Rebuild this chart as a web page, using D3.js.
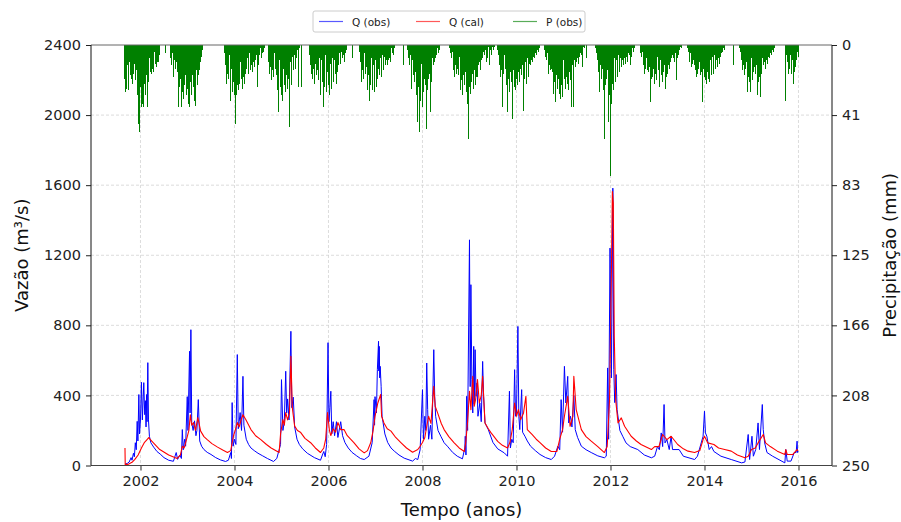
<!DOCTYPE html>
<html>
<head>
<meta charset="utf-8">
<script src="https://cdn.jsdelivr.net/npm/d3@7"></script>
<style>
  body { margin: 0; background: #fff; }
  text { font-family: 'DejaVu Sans', sans-serif; }
</style>
</head>
<body>
<div id="chart"></div>
<script>
// tick values
const yearTicks = [2002, 2004, 2006, 2008, 2010, 2012, 2014, 2016];
const flowTicks = [0, 400, 800, 1200, 1600, 2000, 2400];
const rainTicks = [0, 41.67, 83.33, 125, 166.67, 208.33, 250];

// observed discharge, [decimal year, m3/s]
const qObs = [
  [2001.67, 8], [2001.72, 12], [2001.76, 20], [2001.80, 45], [2001.82, 30], [2001.85, 70], [2001.87, 50],
  [2001.89, 130], [2001.91, 90], [2001.93, 252], [2001.945, 140], [2001.965, 405], [2001.98, 180],
  [2002.00, 260], [2002.02, 475], [2002.04, 260], [2002.07, 473], [2002.09, 290], [2002.105, 370],
  [2002.118, 220], [2002.13, 405], [2002.14, 250], [2002.156, 587], [2002.17, 260], [2002.19, 167],
  [2002.22, 130], [2002.28, 105], [2002.35, 80], [2002.42, 65], [2002.5, 45], [2002.6, 30], [2002.7, 24],
  [2002.76, 74], [2002.79, 35], [2002.84, 60], [2002.87, 40], [2002.89, 205], [2002.91, 90], [2002.94, 150],
  [2002.96, 110], [2002.995, 393], [2003.01, 200], [2003.044, 652], [2003.055, 300], [2003.072, 775],
  [2003.09, 245], [2003.12, 200], [2003.15, 255], [2003.18, 170], [2003.2, 200], [2003.23, 376],
  [2003.26, 140], [2003.3, 110], [2003.35, 91], [2003.42, 75], [2003.5, 63], [2003.6, 45], [2003.7, 32],
  [2003.81, 23],
  [2003.87, 30], [2003.92, 74], [2003.935, 40], [2003.95, 359], [2003.97, 110], [2004.0, 150], [2004.03, 120],
  [2004.06, 633], [2004.08, 210], [2004.1, 250], [2004.12, 302], [2004.15, 200], [2004.18, 509], [2004.2, 230],
  [2004.25, 150], [2004.3, 120], [2004.35, 100], [2004.42, 85], [2004.5, 70], [2004.6, 55], [2004.7, 40],
  [2004.83, 23],
  [2004.9, 40], [2004.95, 90], [2004.98, 120], [2005.0, 490], [2005.03, 200], [2005.06, 250], [2005.09, 538],
  [2005.11, 300], [2005.13, 380], [2005.16, 260], [2005.2, 766], [2005.22, 330], [2005.25, 390], [2005.28, 220],
  [2005.33, 150], [2005.38, 120], [2005.45, 95], [2005.55, 70], [2005.7, 45], [2005.83, 30],
  [2005.87, 60], [2005.9, 80], [2005.93, 50], [2005.96, 120], [2005.99, 701], [2006.01, 250], [2006.03, 330],
  [2006.05, 424], [2006.07, 180], [2006.1, 250], [2006.13, 170], [2006.17, 250], [2006.2, 160], [2006.26, 250],
  [2006.3, 170], [2006.35, 131], [2006.42, 100], [2006.5, 75], [2006.6, 55], [2006.68, 40], [2006.76, 34],
  [2006.86, 53], [2006.93, 131], [2006.97, 376], [2006.98, 230], [2006.99, 393], [2007.02, 300], [2007.04, 547],
  [2007.065, 709], [2007.07, 540], [2007.08, 680], [2007.09, 500], [2007.1, 566], [2007.12, 452], [2007.14, 281],
  [2007.2, 180], [2007.26, 131], [2007.33, 100], [2007.4, 82], [2007.5, 60], [2007.61, 42], [2007.79, 25],
  [2007.85, 40], [2007.9, 34], [2007.95, 90], [2008.0, 433], [2008.02, 150], [2008.05, 281], [2008.07, 200],
  [2008.09, 585], [2008.11, 319], [2008.13, 150], [2008.17, 230], [2008.2, 150], [2008.24, 661], [2008.26, 395],
  [2008.28, 281], [2008.33, 200], [2008.39, 167], [2008.46, 130], [2008.53, 110], [2008.64, 75], [2008.74, 53],
  [2008.85, 38],
  [2008.9, 100], [2008.91, 167], [2008.925, 60], [2008.94, 395], [2008.96, 200], [2009.0, 1288], [2009.015, 450],
  [2009.03, 1032], [2009.05, 490], [2009.07, 300], [2009.09, 680], [2009.1, 350], [2009.12, 661], [2009.14, 395],
  [2009.16, 471], [2009.18, 281], [2009.22, 357], [2009.25, 250], [2009.28, 594], [2009.3, 395], [2009.33, 243],
  [2009.4, 205], [2009.5, 131], [2009.6, 95], [2009.74, 72], [2009.81, 53],
  [2009.85, 424], [2009.87, 100], [2009.9, 150], [2009.93, 130], [2009.96, 547], [2009.98, 281], [2010.0, 300],
  [2010.03, 794], [2010.05, 281], [2010.07, 205], [2010.11, 433], [2010.13, 190], [2010.18, 167], [2010.23, 140],
  [2010.3, 110], [2010.4, 85], [2010.5, 63], [2010.62, 45], [2010.74, 34],
  [2010.81, 53], [2010.88, 110], [2010.92, 90], [2010.95, 376], [2010.98, 190], [2011.02, 566], [2011.05, 357],
  [2011.09, 509], [2011.11, 243], [2011.15, 281], [2011.18, 220], [2011.22, 400], [2011.25, 205], [2011.3, 160],
  [2011.38, 110], [2011.48, 90], [2011.59, 74], [2011.73, 55], [2011.87, 44],
  [2011.91, 53], [2011.94, 557], [2011.96, 150], [2011.99, 1241], [2012.02, 500], [2012.05, 1583], [2012.07, 547],
  [2012.09, 359], [2012.12, 519], [2012.14, 319], [2012.2, 200], [2012.26, 167], [2012.33, 129], [2012.42, 108],
  [2012.58, 91], [2012.72, 60], [2012.87, 44],
  [2012.94, 53], [2013.0, 108], [2013.04, 90], [2013.08, 186], [2013.11, 108], [2013.14, 348], [2013.16, 129],
  [2013.2, 148], [2013.25, 91], [2013.29, 167], [2013.32, 91], [2013.46, 91], [2013.55, 53], [2013.79, 34],
  [2013.85, 53], [2013.97, 167], [2014.0, 310], [2014.02, 186], [2014.05, 167], [2014.1, 91], [2014.15, 108],
  [2014.2, 80], [2014.35, 53], [2014.57, 34], [2014.79, 15],
  [2014.86, 20], [2014.93, 177], [2014.96, 34], [2015.01, 167], [2015.04, 53], [2015.09, 91], [2015.14, 243],
  [2015.17, 91], [2015.23, 348], [2015.25, 205], [2015.28, 129], [2015.33, 74], [2015.45, 53], [2015.71, 15],
  [2015.73, 91], [2015.76, 25], [2015.84, 25], [2015.91, 74], [2015.95, 74], [2015.97, 139], [2015.98, 74],
  [2015.99, 82]
];

// calibrated discharge, [decimal year, m3/s]
const qCal = [
  [2001.67, 100], [2001.675, 5], [2001.75, 8], [2001.82, 18], [2001.88, 35], [2001.95, 60], [2002.02, 100],
  [2002.08, 130], [2002.13, 145], [2002.18, 160], [2002.2, 150], [2002.27, 131], [2002.41, 91], [2002.6, 60],
  [2002.78, 40],
  [2002.85, 60], [2002.89, 110], [2002.93, 100], [2002.995, 165], [2003.03, 200], [2003.06, 290], [2003.09, 230],
  [2003.13, 245], [2003.17, 200], [2003.22, 274], [2003.28, 196], [2003.35, 165], [2003.42, 148], [2003.52, 125],
  [2003.64, 105], [2003.75, 88], [2003.85, 74],
  [2003.92, 85], [2003.95, 130], [2003.98, 170], [2004.02, 205], [2004.06, 245], [2004.1, 220], [2004.14, 260],
  [2004.18, 290], [2004.24, 262], [2004.35, 205], [2004.45, 170], [2004.56, 148], [2004.68, 120], [2004.78, 100],
  [2004.95, 74],
  [2004.98, 180], [2005.03, 262], [2005.06, 230], [2005.09, 302], [2005.13, 260], [2005.17, 300], [2005.2, 623],
  [2005.23, 330], [2005.28, 225], [2005.34, 200], [2005.41, 188], [2005.5, 155], [2005.62, 130], [2005.72, 100],
  [2005.83, 74],
  [2005.9, 100], [2005.94, 150], [2005.98, 302], [2006.02, 200], [2006.05, 171], [2006.1, 210], [2006.15, 190],
  [2006.2, 245], [2006.26, 205], [2006.33, 205], [2006.4, 170], [2006.47, 150], [2006.54, 131], [2006.65, 95],
  [2006.76, 72],
  [2006.83, 85], [2006.9, 131], [2006.95, 200], [2006.99, 281], [2007.05, 357], [2007.11, 405], [2007.13, 281],
  [2007.18, 243], [2007.25, 210], [2007.33, 196], [2007.43, 160], [2007.54, 131], [2007.66, 100], [2007.79, 76],
  [2007.9, 91], [2007.95, 110], [2008.0, 131], [2008.05, 160], [2008.09, 224], [2008.13, 281], [2008.18, 240],
  [2008.24, 452], [2008.27, 338], [2008.32, 302], [2008.4, 240], [2008.46, 205], [2008.56, 165], [2008.67, 131],
  [2008.78, 100], [2008.89, 80],
  [2008.92, 131], [2008.96, 250], [2009.0, 424], [2009.03, 319], [2009.07, 509], [2009.1, 338], [2009.13, 376],
  [2009.17, 490], [2009.21, 357], [2009.25, 400], [2009.28, 509], [2009.33, 243], [2009.4, 210], [2009.46, 186],
  [2009.6, 138], [2009.7, 115], [2009.81, 100],
  [2009.86, 131], [2009.91, 205], [2009.96, 357], [2010.0, 281], [2010.04, 319], [2010.09, 262], [2010.15, 300],
  [2010.2, 395], [2010.23, 205], [2010.33, 177], [2010.42, 150], [2010.5, 131], [2010.62, 100], [2010.74, 80],
  [2010.86, 80], [2010.92, 150], [2010.98, 205], [2011.02, 281], [2011.09, 395], [2011.14, 224], [2011.2, 281],
  [2011.22, 509], [2011.27, 319], [2011.38, 205], [2011.48, 165], [2011.59, 139], [2011.73, 108], [2011.87, 74],
  [2011.93, 108], [2011.98, 376], [2012.02, 1117], [2012.04, 1564], [2012.06, 1497], [2012.08, 737], [2012.11, 376],
  [2012.16, 243], [2012.23, 272], [2012.3, 224], [2012.44, 167], [2012.55, 140], [2012.65, 120], [2012.87, 91],
  [2012.94, 108], [2013.03, 108], [2013.11, 177], [2013.2, 148], [2013.29, 167], [2013.43, 120], [2013.55, 95],
  [2013.65, 82], [2013.79, 74],
  [2013.9, 85], [2013.97, 148], [2014.0, 167], [2014.07, 129], [2014.2, 120], [2014.3, 100], [2014.43, 91],
  [2014.57, 82], [2014.7, 60], [2014.86, 44],
  [2014.93, 53], [2015.0, 91], [2015.08, 100], [2015.14, 129], [2015.25, 177], [2015.3, 129], [2015.4, 108],
  [2015.55, 82], [2015.71, 63],
  [2015.73, 91], [2015.76, 63], [2015.88, 63], [2015.97, 91], [2015.99, 85]
];

// rainfall per wet season: [first day (decimal year), mm every rainStepDays]
const rainStepDays = 5;
const rainSeasons = [
  [2001.67, [20, 28, 15, 26, 12, 22, 27, 10, 18, 8, 20, 14, 23, 6, 17, 11, 21, 9, 15, 19,
    30, 47, 12, 52, 25, 37, 8, 35, 20, 37, 14, 23, 30, 10, 18, 37, 12, 22, 8, 16,
    12, 17, 6, 14, 9, 16, 4, 11, 7, 13, 5, 10, 3, 6, 2]],
  [2002.628, [3, 8, 2, 12, 5, 19, 4, 9, 14, 6, 10, 3, 16, 37, 12, 25, 8, 20,
    37, 15, 28, 32, 10, 24, 18, 30, 12, 26, 35, 27, 14, 37, 22, 9, 30, 18, 25, 11, 33, 20,
    36, 15, 24, 8, 18, 12, 15, 5, 10, 7, 3]],
  [2003.798, [5, 12, 23, 8, 17, 10, 20, 6, 25, 33, 14, 28, 10, 22, 30, 16, 47,
    12, 30, 24, 8, 27, 18, 23, 10, 20, 14, 26, 9, 19, 23, 12, 17, 6,
    14, 8, 17, 11, 5, 15, 9, 12, 4, 16, 7, 10, 13, 5, 9, 6, 25, 8, 12, 4, 6, 2, 8, 3, 5, 1, 4, 2]],
  [2004.713, [4, 10, 17, 6, 13, 21, 8, 15, 11, 19, 5, 14, 9, 18, 27, 12, 40, 20, 9, 25, 15, 30, 11,
    33, 14, 24, 8, 28, 18, 12, 26, 10, 20, 49, 27, 10, 19, 24, 7, 15, 12, 6, 14, 9, 4, 8, 3, 25, 6, 2]],
  [2005.606, [6, 12, 17, 4, 20, 9, 14, 23, 7, 11, 18, 5, 15, 10, 21, 8,
    14, 30, 9, 22, 17, 37, 12, 25, 6, 19, 28, 10, 16, 24, 13,
    30, 11, 19, 26, 8, 15, 22, 9, 17, 12, 23, 10, 16, 7, 12, 5, 9, 11, 4, 8, 3, 6, 10, 2, 5, 3, 1]],
  [2006.67, [4, 10, 22, 7, 15, 12, 20, 5, 17, 9, 13, 21, 27, 10, 18, 33, 14, 24, 8, 19,
    27, 12, 22, 28, 9, 17, 25, 11, 20, 14, 18, 17, 8, 13, 19, 6, 11, 15, 7, 12, 5, 9,
    12, 5, 9, 3, 8, 6, 10, 2, 5, 3, 6, 1, 2]],
  [2007.691, [3, 8, 5, 12, 6, 10, 26, 9, 18, 14, 22, 7, 16, 12, 30, 46, 15, 25, 52, 19, 33, 11,
    37, 14, 28, 20, 10, 24, 16, 50, 27, 12, 20, 9, 17, 40, 14, 22, 8, 12, 6, 10, 4, 8, 3, 6, 2, 5, 1, 3]],
  [2008.585, [2, 5, 3, 8, 4, 15, 9, 19, 6, 12, 17, 8, 14, 11, 18, 7,
    27, 13, 21, 30, 10, 18, 24, 9, 16, 28, 12, 35, 56, 20, 14, 25,
    29, 11, 22, 17, 26, 8, 15, 24, 10, 19, 13, 19, 7, 12, 10, 15, 5, 9, 6, 8,
    4, 2, 6, 3, 10, 2, 5, 8, 1, 4, 12, 3, 2, 6, 1, 3, 2, 1]],
  [2009.606, [3, 6, 2, 12, 19, 8, 15, 37, 10, 17, 6, 14, 9, 18, 24, 40, 12, 20, 28, 9, 16, 22,
    30, 44, 15, 25, 11, 27, 13, 20, 9, 24, 16, 10, 22, 14, 18, 7, 12,
    26, 39, 15, 20, 10, 23, 17, 8, 13, 19, 11, 12, 6, 9, 4, 10, 7, 3, 8, 5, 2, 6, 3, 1, 4, 2]],
  [2010.606, [3, 7, 2, 9, 5, 17, 8, 12, 15, 6, 14, 10, 16, 29, 13, 22, 34, 11, 18, 26, 9, 20, 29, 14,
    32, 12, 24, 18, 31, 9, 20, 15, 26, 11, 19, 23, 10, 27, 16, 8, 21, 14, 37, 12, 37, 18, 9,
    13, 6, 10, 4, 8, 11, 3, 7, 5, 2, 6, 13, 3, 1, 2]],
  [2011.691, [2, 5, 3, 9, 16, 28, 7, 12, 20, 6, 14, 27, 11, 56, 18, 24, 9, 20, 15,
    46, 22, 30, 78, 16, 35, 23, 10, 27, 14, 8, 17, 22, 9, 14, 19, 6, 12, 16, 8, 11, 13, 5,
    9, 12, 4, 8, 11, 3, 7, 10, 5, 2, 6, 12, 4, 3, 7, 2, 4, 1, 2]],
  [2012.628, [2, 5, 3, 7, 4, 12, 6, 17, 9, 14, 8, 15, 11, 16, 7, 13, 34, 12, 20,
    19, 8, 14, 23, 10, 17, 12, 21, 7, 15, 11, 18, 25, 9, 18, 14, 22, 7, 16, 12, 26, 10, 19,
    17, 6, 12, 9, 14, 5, 10, 8, 6, 3, 8, 4, 10, 5, 12, 21, 8, 4, 6, 2, 3, 1, 2]],
  [2013.649, [2, 4, 1, 10, 5, 13, 7, 11, 4, 9, 12, 15, 8, 19, 11, 17, 6, 14, 10, 18, 9, 16,
    22, 34, 14, 19, 10, 21, 12, 23, 8, 16, 20, 11, 22, 9, 14, 18, 7,
    12, 17, 6, 10, 14, 5, 9, 13, 4, 8, 11, 3, 7, 5, 2, 4, 2, 1, 3]],
  [2014.755, [2, 4, 3, 9, 15, 6, 12, 18, 8, 14, 10, 28, 12, 19, 9, 22, 28, 14, 8,
    21, 10, 16, 7, 13, 17, 9, 12, 30, 14, 22, 11, 19, 31, 15,
    17, 8, 12, 5, 10, 14, 6, 9, 4, 11, 7, 3, 8, 5, 2, 6, 3, 1, 4, 2, 1]],
  [2015.734, [3, 6, 2, 10, 17, 8, 14, 6, 12, 17, 9, 23, 11, 16, 8, 13, 5, 9, 4, 7, 3]]
];

// isolated dry-season rain days, [decimal year, mm]
const rainSingles = [
  [2002.38, 10], [2002.53, 5], [2005.43, 25], [2006.52, 8], [2007.6, 12],
  [2009.42, 8], [2011.48, 8], [2014.62, 12], [2015.72, 33]
];

const legendItems = [
  {label: 'Q (obs)', color: '#0000ff'},
  {label: 'Q (cal)', color: '#ff0000'},
  {label: 'P (obs)', color: '#008000'}
];

// layout
const width = 901,
      height = 522,
      margins = {top: 45, right: 69, bottom: 56.5, left: 91};

let xScale, yFlow, yRain, line, rainDays;
let $svg, $plot;

function init() {
  rainDays = rainSeasons.flatMap(([start, values]) =>
    values.map((v, i) => ({t: start + i * rainStepDays / 365.25, v}))
  ).concat(rainSingles.map(([t, v]) => ({t, v})));

  xScale = d3.scaleLinear()
    .domain([2000.947, 2016.713])
    .range([margins.left, width - margins.right]);

  yFlow = d3.scaleLinear()
    .domain([0, 2400])
    .range([height - margins.bottom, margins.top]);

  yRain = d3.scaleLinear()
    .domain([0, 250])
    .range([margins.top, height - margins.bottom]);

  line = d3.line()
    .x(d => xScale(d[0]))
    .y(d => yFlow(d[1]));

  $svg = d3.select('#chart').append('svg')
    .attr('width', width)
    .attr('height', height);

  $svg.append('clipPath').attr('id', 'plot-clip')
    .append('rect')
    .attr('x', margins.left).attr('y', margins.top)
    .attr('width', width - margins.left - margins.right)
    .attr('height', height - margins.top - margins.bottom);

  drawGrid();

  $plot = $svg.append('g').attr('clip-path', 'url(#plot-clip)');

  $plot.append('path')
    .datum(qObs)
    .attr('d', line)
    .attr('fill', 'none')
    .attr('stroke', '#0000ff')
    .attr('stroke-width', 1)
    .attr('stroke-linejoin', 'round');

  $plot.append('path')
    .datum(qCal)
    .attr('d', line)
    .attr('fill', 'none')
    .attr('stroke', '#ff0000')
    .attr('stroke-width', 1.1)
    .attr('stroke-linejoin', 'round');

  // rain hangs from the top of the plot (inverted right axis)
  $plot.selectAll('.rain')
    .data(rainDays.filter(d => d.v > 0))
    .enter()
    .append('rect')
    .classed('rain', true)
    .attr('x', d => xScale(d.t) - 0.5)
    .attr('y', yRain(0))
    .attr('width', 1)
    .attr('height', d => yRain(d.v) - yRain(0))
    .attr('fill', '#008000')
    .attr('shape-rendering', 'crispEdges');

  drawAxes();
  drawLegend();
}

function drawGrid() {
  const $grid = $svg.append('g').classed('grid', true);

  $grid.selectAll('.gx')
    .data(yearTicks)
    .enter()
    .append('line')
    .attr('x1', d => xScale(d)).attr('x2', d => xScale(d))
    .attr('y1', margins.top).attr('y2', height - margins.bottom);

  $grid.selectAll('.gy')
    .data(flowTicks.slice(1, -1))
    .enter()
    .append('line')
    .attr('x1', margins.left).attr('x2', width - margins.right)
    .attr('y1', d => yFlow(d)).attr('y2', d => yFlow(d));

  $grid.selectAll('line')
    .attr('stroke', '#d3d3d3')
    .attr('stroke-width', 0.8)
    .attr('stroke-dasharray', '3,2');
}

function styleAxis($g) {
  $g.attr('font-size', 14.5)
    .attr('font-family', 'DejaVu Sans')
    .style('color', '#222');
  $g.select('.domain').remove();
  $g.selectAll('.tick line').attr('stroke', '#222');
}

function drawAxes() {
  const left = margins.left,
        right = width - margins.right,
        bottom = height - margins.bottom;

  $svg.append('g')
    .attr('transform', `translate(0, ${bottom})`)
    .call(d3.axisBottom(xScale).tickValues(yearTicks).tickFormat(d3.format('d')).tickSize(5).tickPadding(5))
    .call(styleAxis);

  $svg.append('g')
    .attr('transform', `translate(${left}, 0)`)
    .call(d3.axisLeft(yFlow).tickValues(flowTicks).tickFormat(d3.format('d')).tickSize(5).tickPadding(5))
    .call(styleAxis);

  $svg.append('g')
    .attr('transform', `translate(${right}, 0)`)
    .call(d3.axisRight(yRain).tickValues(rainTicks).tickFormat(d => Math.floor(d)).tickSize(5).tickPadding(5))
    .call(styleAxis);

  // frame
  $svg.append('line').attr('x1', left).attr('x2', right).attr('y1', margins.top).attr('y2', margins.top)
    .attr('stroke', '#666');
  $svg.append('line').attr('x1', left).attr('x2', right).attr('y1', bottom).attr('y2', bottom)
    .attr('stroke', '#444');
  $svg.append('line').attr('x1', left).attr('x2', left).attr('y1', margins.top).attr('y2', bottom)
    .attr('stroke', '#111');
  $svg.append('line').attr('x1', right).attr('x2', right).attr('y1', margins.top).attr('y2', bottom)
    .attr('stroke', '#111');

  const midY = (margins.top + bottom) / 2;

  $svg.append('text')
    .attr('x', (left + right) / 2)
    .attr('y', 516)
    .attr('text-anchor', 'middle')
    .attr('font-size', 18)
    .attr('fill', '#111')
    .text('Tempo (anos)');

  $svg.append('text')
    .attr('transform', `translate(28, ${midY}) rotate(-90)`)
    .attr('text-anchor', 'middle')
    .attr('font-size', 18)
    .attr('fill', '#111')
    .text('Vazão (m³/s)');

  $svg.append('text')
    .attr('transform', `translate(896, ${midY}) rotate(-90)`)
    .attr('text-anchor', 'middle')
    .attr('font-size', 18)
    .attr('fill', '#111')
    .text('Precipitação (mm)');
}

function drawLegend() {
  const $legend = $svg.append('g').attr('transform', 'translate(313, 11)');

  $legend.append('rect')
    .attr('width', 272)
    .attr('height', 21)
    .attr('rx', 2)
    .attr('fill', '#fff')
    .attr('stroke', '#ccc');

  const $items = $legend.selectAll('.item')
    .data(legendItems)
    .enter()
    .append('g')
    .attr('transform', (d, i) => `translate(${6 + i * 97}, 0)`);

  $items.append('line')
    .attr('x1', 0).attr('x2', 24)
    .attr('y1', 10.5).attr('y2', 10.5)
    .attr('stroke', d => d.color)
    .attr('stroke-opacity', 0.65)
    .attr('stroke-width', 1.2);

  $items.append('text')
    .attr('x', 33)
    .attr('y', 14.5)
    .attr('font-size', 10.5)
    .attr('fill', '#222')
    .text(d => d.label);
}

init();
</script>
</body>
</html>
